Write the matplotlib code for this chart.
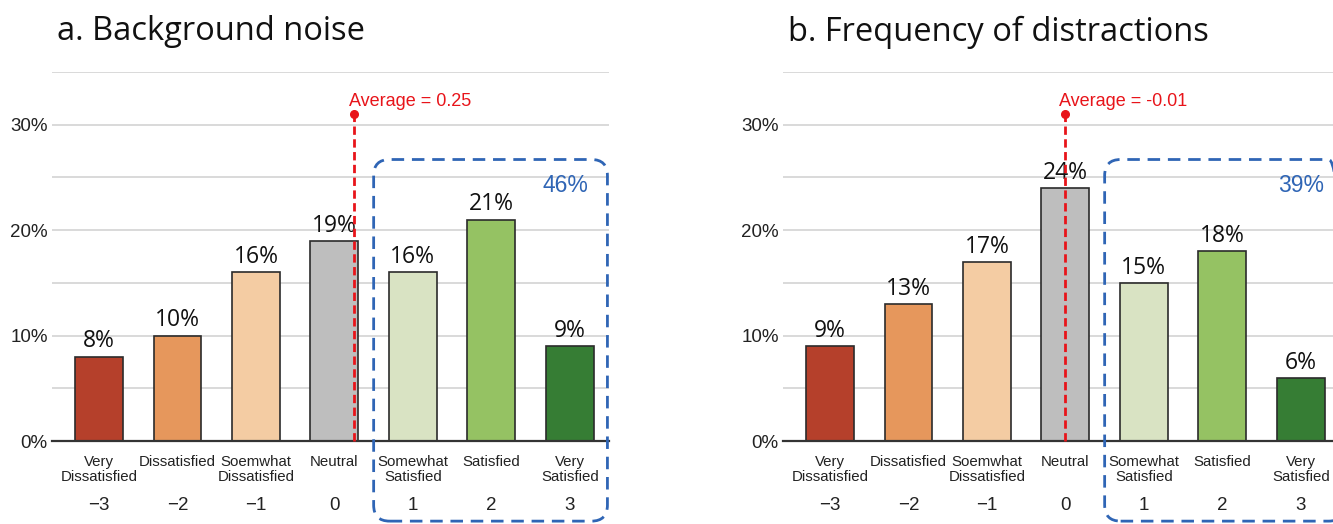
import numpy as np
import matplotlib.pyplot as plt
from matplotlib.patches import FancyBboxPatch
from matplotlib.transforms import IdentityTransform

# data -----------------------------------------------------------------------
scores = [-3, -2, -1, 0, 1, 2, 3]
categories = ['Very\nDissatisfied', 'Dissatisfied', 'Soemwhat\nDissatisfied', 'Neutral',
              'Somewhat\nSatisfied', 'Satisfied', 'Very\nSatisfied']
noise = [8, 10, 16, 19, 16, 21, 9]
distraction = [9, 13, 17, 24, 15, 18, 6]
titles = ['a. Background noise', 'b. Frequency of distractions']
averages = [0.25, -0.01]
satisfied_share = [46, 39]
colors = ['#B5402B', '#E6975C', '#F4CCA3', '#BEBEBE', '#D9E3C3', '#95C263', '#367D34']

plt.rcParams['font.family'] = ['Liberation Sans', 'DejaVu Sans']

RED = '#E8141A'
BLUE = '#2F65B5'

fig = plt.figure(figsize=(13.33, 5.24), dpi=100)

# (values, left edge px, box right edge, share label x)
panels = [(noise, 52, 3.48, 2.94), (distraction, 783, 3.56, 3.0)]

for k, (vals, left_px, box_right, share_x) in enumerate(panels):
    ax = fig.add_axes([left_px / 1333, 83 / 524, 557 / 1333, 369 / 524])
    ax.set_xlim(-3.6, 3.5)
    ax.set_ylim(0, 35)

    ax.bar(scores, vals, width=0.61, color=colors, edgecolor='#2b2b2b', linewidth=1.2, zorder=2)
    for x, v in zip(scores, vals):
        ax.text(x, v + 0.3, f'{v}%', ha='center', va='bottom', fontsize=16.5,
                family='Open Sans', color='#111111')

    # grid / axes
    ax.set_yticks(np.arange(0, 36, 5))
    ax.set_yticklabels([f'{v}%' if v % 10 == 0 else '' for v in range(0, 36, 5)],
                       fontsize=13.5, color='#222222')
    ax.yaxis.grid(True, color='#D0D0D0', linewidth=1.1, zorder=0)
    ax.set_axisbelow(True)
    ax.tick_params(axis='y', length=0, pad=3)
    ax.set_xticks([])
    for s in ['top', 'right', 'left']:
        ax.spines[s].set_visible(False)
    ax.spines['bottom'].set_color('#333333')
    ax.spines['bottom'].set_linewidth(1.6)

    # category and score labels
    tr = ax.get_xaxis_transform()
    for x, c in zip(scores, categories):
        ax.text(x, -0.037, c, transform=tr, ha='center', va='top', fontsize=10.8,
                color='#222222', linespacing=1.15)
        ax.text(x, -0.175, str(x).replace('-', '\u2212'), transform=tr, ha='center',
                va='center', fontsize=13.5, color='#222222')

    # average line
    avg = averages[k]
    ax.plot([avg, avg], [0, 31], color=RED, linestyle='--', dashes=(3, 1.6),
            linewidth=2, zorder=4, clip_on=False)
    ax.plot([avg], [31], 'o', color=RED, markersize=5.5, zorder=4, clip_on=False)
    ax.text(avg - 0.07, 32.2, f'Average = {avg:.2f}', color=RED, fontsize=13,
            ha='left', va='center')

    # satisfied share
    ax.text(share_x, 24.2, f'{satisfied_share[k]}%', color=BLUE, fontsize=16.5,
            ha='center', va='center')

    # dashed rounded box in pixel coordinates
    x0, y0 = ax.transData.transform((0.5, -7.6))
    x1, y1 = ax.transData.transform((box_right, 26.7))
    box = FancyBboxPatch((x0, y0), x1 - x0, y1 - y0,
                         boxstyle='round,pad=0,rounding_size=16',
                         transform=IdentityTransform(), fill=False,
                         edgecolor=BLUE, linewidth=2, linestyle=(0, (4.5, 2.8)))
    fig.add_artist(box)

    # panel title
    fig.text((left_px + 5) / 1333, 1 - 32 / 524, titles[k], fontsize=23.5,
             family='Open Sans', ha='left', va='center', color='#111111')

fig.savefig('out.png', dpi=100)
